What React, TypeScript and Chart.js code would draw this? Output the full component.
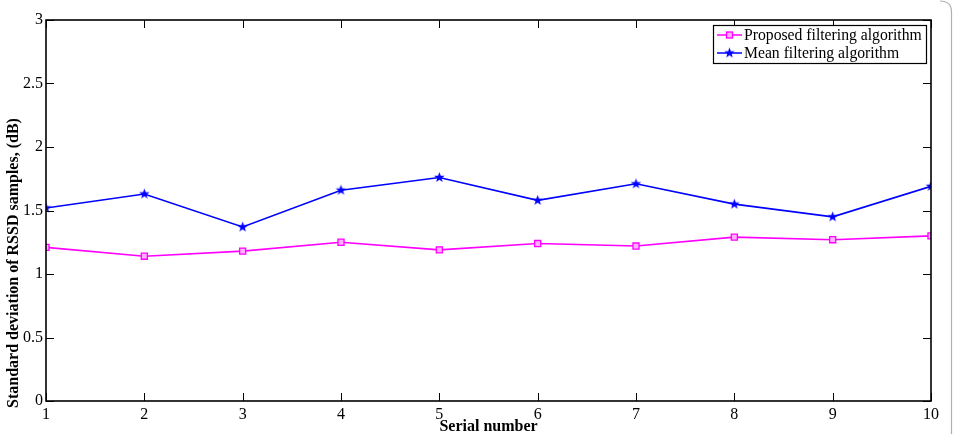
import React, { useEffect, useRef } from "react";
import { Chart, registerables } from "chart.js";

Chart.register(...registerables);

const serialNumbers = [1, 2, 3, 4, 5, 6, 7, 8, 9, 10];
const proposedValues = [1.21, 1.14, 1.18, 1.25, 1.19, 1.24, 1.22, 1.29, 1.27, 1.30];
const meanValues = [1.52, 1.63, 1.37, 1.66, 1.76, 1.58, 1.71, 1.55, 1.45, 1.69];
const seriesLabels = ["Proposed filtering algorithm", "Mean filtering algorithm"];
const xTicks = [1, 2, 3, 4, 5, 6, 7, 8, 9, 10];
const yTicks = [0, 0.5, 1, 1.5, 2, 2.5, 3];
const xTitle = "Serial number";
const yTitle = "Standard deviation of RSSD samples, (dB)";

const FONT = "'Liberation Serif', 'Times New Roman', serif";
const MAGENTA = "#ff00ff";
const BLUE = "#0000ff";

function makeStar(color: string, r: number): HTMLCanvasElement {
  const c = document.createElement("canvas");
  const s = Math.ceil(r * 2 + 2);
  c.width = s;
  c.height = s;
  const ctx = c.getContext("2d")!;
  const cx = s / 2, cy = s / 2;
  ctx.beginPath();
  for (let i = 0; i < 10; i++) {
    const rad = i % 2 === 0 ? r : r * 0.42;
    const a = -Math.PI / 2 + (i * Math.PI) / 5;
    const x = cx + rad * Math.cos(a);
    const y = cy + rad * Math.sin(a);
    if (i === 0) ctx.moveTo(x, y);
    else ctx.lineTo(x, y);
  }
  ctx.closePath();
  ctx.fillStyle = color;
  ctx.fill();
  return c;
}

export default function App() {
  const ref = useRef<HTMLCanvasElement>(null);

  useEffect(() => {
    if (!ref.current) return;
    const star = makeStar(BLUE, 5.5);

    const frame = {
      id: "frameAndTicks",
      beforeDraw(chart: any) {
        const ctx = chart.ctx;
        ctx.save();
        ctx.strokeStyle = "#b0b0b0";
        ctx.lineWidth = 1.2;
        ctx.beginPath();
        ctx.moveTo(940, 1);
        ctx.quadraticCurveTo(951.5, 1, 951.5, 12);
        ctx.lineTo(951.5, 434);
        ctx.stroke();
        ctx.restore();
      },
      afterDatasetsDraw(chart: any) {
        const ctx = chart.ctx;
        const { left, right, top, bottom } = chart.chartArea;
        const xs = chart.scales.x;
        const ys = chart.scales.y;
        ctx.save();
        ctx.strokeStyle = "#000";
        ctx.lineWidth = 1;
        const tl = 8;
        ctx.beginPath();
        xTicks.forEach((t) => {
          const px = Math.round(xs.getPixelForValue(t)) + 0.5;
          ctx.moveTo(px, bottom);
          ctx.lineTo(px, bottom - tl);
          ctx.moveTo(px, top);
          ctx.lineTo(px, top + tl);
        });
        yTicks.forEach((t) => {
          const py = Math.round(ys.getPixelForValue(t)) + 0.5;
          ctx.moveTo(left, py);
          ctx.lineTo(left + tl, py);
          ctx.moveTo(right, py);
          ctx.lineTo(right - tl, py);
        });
        ctx.stroke();
        ctx.lineWidth = 1.6;
        ctx.strokeRect(left, top, right - left, bottom - top);

        // axis titles
        ctx.fillStyle = "#000";
        ctx.font = `bold 16px ${FONT}`;
        ctx.textAlign = "center";
        ctx.textBaseline = "middle";
        ctx.fillText(xTitle, (left + right) / 2, 427);
        ctx.save();
        ctx.translate(14, 263);
        ctx.rotate(-Math.PI / 2);
        ctx.fillText(yTitle, 0, 0);
        ctx.restore();

        // legend
        const lx = 713, ly = 25, lw = 213, lh = 38;
        ctx.fillStyle = "#fff";
        ctx.fillRect(lx, ly, lw, lh);
        ctx.lineWidth = 1.2;
        ctx.strokeStyle = "#000";
        ctx.strokeRect(lx + 0.5, ly + 0.5, lw, lh);
        const rows = [
          { label: seriesLabels[0], color: MAGENTA, y: ly + 10 },
          { label: seriesLabels[1], color: BLUE, y: ly + 28 },
        ];
        rows.forEach((r, i) => {
          ctx.strokeStyle = r.color;
          ctx.lineWidth = 1.5;
          ctx.beginPath();
          ctx.moveTo(lx + 4, r.y);
          ctx.lineTo(lx + 29, r.y);
          ctx.stroke();
          if (i === 0) {
            ctx.fillStyle = "#ffb0ff";
            ctx.fillRect(lx + 13.5, r.y - 3, 6, 6);
            ctx.lineWidth = 1.3;
            ctx.strokeRect(lx + 13.5, r.y - 3, 6, 6);
          } else {
            ctx.drawImage(star, lx + 16.5 - star.width / 2, r.y - star.height / 2);
          }
          ctx.fillStyle = "#000";
          ctx.font = `15.7px ${FONT}`;
          ctx.textBaseline = "middle";
          ctx.textAlign = "left";
          ctx.fillText(r.label, lx + 31, r.y + 0.5);
        });
        ctx.restore();
      },
    };

    const chart = new Chart(ref.current, {
      type: "line",
      data: {
        labels: serialNumbers,
        datasets: [
          {
            label: seriesLabels[0],
            data: serialNumbers.map((x, i) => ({ x, y: proposedValues[i] })),
            borderColor: MAGENTA,
            backgroundColor: "#ffb0ff",
            borderWidth: 1.6,
            pointStyle: "rect",
            pointRadius: 4.3,
            pointBorderWidth: 1.3,
            pointBorderColor: MAGENTA,
            tension: 0,
          },
          {
            label: seriesLabels[1],
            data: serialNumbers.map((x, i) => ({ x, y: meanValues[i] })),
            borderColor: BLUE,
            backgroundColor: BLUE,
            borderWidth: 1.6,
            pointStyle: star as any,
            pointRadius: 5,
            tension: 0,
          },
        ],
      },
      options: {
        animation: false,
        responsive: false,
        maintainAspectRatio: false,
        layout: { padding: { top: 20, right: 23, left: 0, bottom: 0 } },
        plugins: {
          legend: { display: false },
          tooltip: { enabled: false },
        },
        scales: {
          x: {
            type: "linear",
            min: 1,
            max: 10,
            grid: { display: false, drawTicks: false },
            border: { display: false },
            ticks: {
              stepSize: 1,
              color: "#000",
              padding: 4,
              maxRotation: 0,
              font: { family: FONT, size: 16 },
            },
            afterFit: (s: any) => {
              s.height = 33;
            },
          },
          y: {
            min: 0,
            max: 3,
            grid: { display: false, drawTicks: false },
            border: { display: false },
            ticks: {
              stepSize: 0.5,
              color: "#000",
              padding: 3,
              font: { family: FONT, size: 16 },
              callback: (v: any) => String(v),
            },
            afterFit: (s: any) => {
              s.width = 46;
            },
          },
        },
      },
      plugins: [frame],
    });
    return () => chart.destroy();
  }, []);

  return (
    <div style={{ position: "fixed", left: 0, top: 0, width: 954, height: 434, background: "#fff" }}>
      <canvas ref={ref} width={954} height={434} style={{ width: 954, height: 434, display: "block" }} />
    </div>
  );
}
